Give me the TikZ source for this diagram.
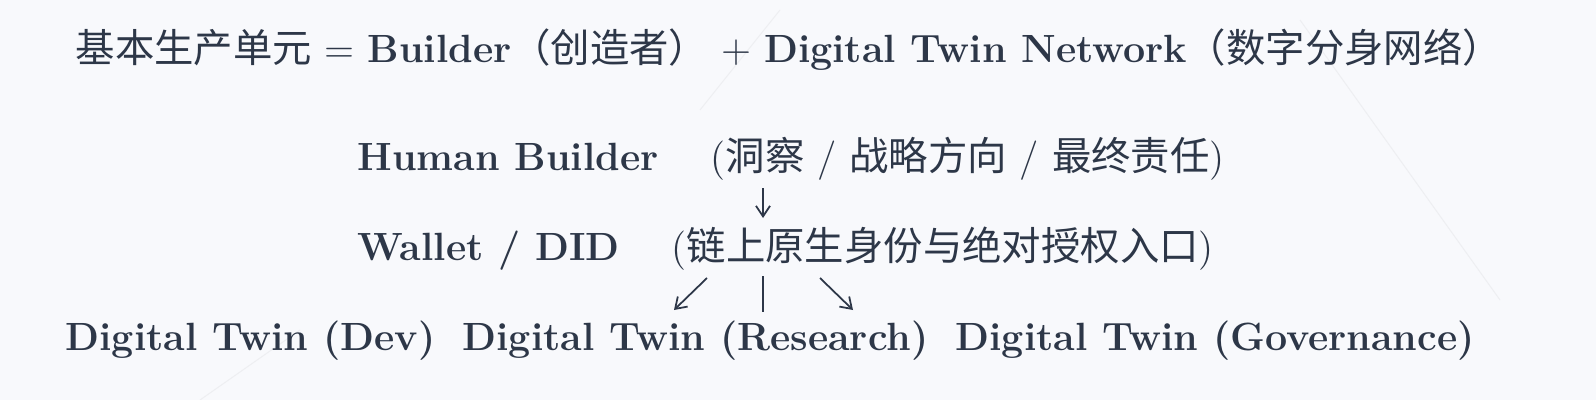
\documentclass[tikz,border=0pt]{standalone}
\usepackage{fontspec}
\newfontfamily\cjk{Noto Sans CJK SC}
\usetikzlibrary{arrows.meta}
\definecolor{ink}{HTML}{2D3748}
\definecolor{bg}{HTML}{F8F9FC}
\begin{document}
\begin{tikzpicture}[x=0.01cm,y=-0.01cm,
  txt/.style={anchor=base west,inner sep=0,text=ink,font=\fontsize{11.2}{13}\selectfont},
  arr/.style={draw=ink,line width=0.5pt,-{Straight Barb[length=3pt,width=4pt]}}]
\fill[bg] (0,0) rectangle (1596,400);
\useasboundingbox (0,0) rectangle (1596,400);
\draw[bg!92!gray,line width=0.3pt] (700,110) -- (780,10) (1300,20)--(1500,300) (200,400)--(300,330);
\node[txt] (title) at (75,62) {{\cjk 基本生产单元} = \textbf{Builder}{\cjk （创造者）} + \textbf{Digital Twin Network}{\cjk （数字分身网络）}};
\node[txt] (hb) at (357,170) {\textbf{Human Builder}\quad\ ({\cjk 洞察} / {\cjk 战略方向} / {\cjk 最终责任})};
\node[txt] (wd) at (357,260) {\textbf{Wallet / DID}\quad\ ({\cjk 链上原生身份与绝对授权入口})};
\node[txt] (dev) at (65,350) {\textbf{Digital Twin (Dev)}};
\node[txt] (res) at (462,350) {\textbf{Digital Twin (Research)}};
\node[txt] (gov) at (955,350) {\textbf{Digital Twin (Governance)}};
\coordinate (a1) at (763,188); \coordinate (a2) at (763,218);
\draw[arr] (a1) -- (a2);
\coordinate (b1) at (707,278); \coordinate (b2) at (674,310);
\coordinate (c1) at (763,276); \coordinate (c2) at (763,312);
\coordinate (d1) at (820,278); \coordinate (d2) at (853,310);
\draw[arr] (b1) -- (b2);
\draw[draw=ink,line width=0.5pt] (c1) -- (c2);
\draw[arr] (d1) -- (d2);
\end{tikzpicture}
\end{document}
